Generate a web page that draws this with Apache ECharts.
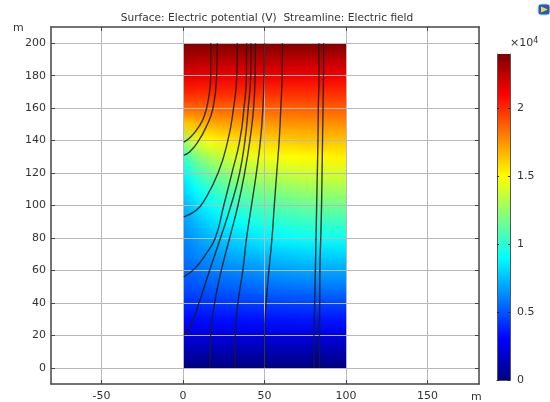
<!DOCTYPE html>
<html>
<head>
<meta charset="utf-8">
<style>html,body{margin:0;padding:0;background:#fff}#main{width:550px;height:402px}</style>
<script src="https://cdn.jsdelivr.net/npm/echarts@6/dist/echarts.min.js"></script>
</head>
<body>
<div id="main"></div>
<script>
var titleText = 'Surface: Electric potential (V)  Streamline: Electric field';
var xTicks = [-50, 0, 50, 100, 150];
var yTicks = [0, 20, 40, 60, 80, 100, 120, 140, 160, 180, 200];
var barTicks = [0, 0.5, 1, 1.5, 2];
var barMax = [2.4];
var potentialMax = 24000;

// potential, one row per entry of gridY
var gridX = [0, 5, 10, 20, 30, 50, 75, 100];
var gridY = [0, 10, 20, 30, 40, 50, 60, 70, 80, 90, 100, 110, 120, 130, 140, 150, 160, 170, 180, 190, 200];
var potential = [
    [0, 0, 0, 0, 0, 0, 0, 0],
    [1100, 1100, 1100, 1100, 1100, 1100, 1100, 1100],
    [2200, 2200, 2200, 2200, 2300, 2300, 2300, 2300],
    [3200, 3200, 3200, 3300, 3300, 3400, 3500, 3500],
    [4100, 4100, 4200, 4300, 4400, 4500, 4600, 4700],
    [4900, 4900, 5000, 5200, 5300, 5600, 5800, 5900],
    [5400, 5500, 5700, 6000, 6200, 6600, 6900, 7000],
    [5800, 6000, 6300, 6700, 7100, 7600, 8000, 8100],
    [6200, 6500, 6900, 7500, 8000, 8700, 9200, 9300],
    [6700, 7100, 7600, 8400, 9000, 9800, 10300, 10500],
    [7300, 7800, 8400, 9400, 10100, 10900, 11500, 11700],
    [8000, 8700, 9400, 10500, 11200, 12100, 12700, 12900],
    [8900, 9800, 10600, 11800, 12600, 13400, 13900, 14100],
    [10200, 11300, 12200, 13300, 14000, 14700, 15100, 15300],
    [12600, 13800, 14500, 15200, 15600, 16000, 16300, 16400],
    [16300, 16400, 16700, 17000, 17200, 17400, 17500, 17600],
    [18600, 18600, 18600, 18700, 18700, 18700, 18800, 18800],
    [20200, 20200, 20100, 20100, 20100, 20000, 20000, 20000],
    [21700, 21600, 21500, 21400, 21400, 21400, 21300, 21300],
    [23000, 22900, 22800, 22700, 22700, 22700, 22600, 22600],
    [24000, 24000, 24000, 24000, 24000, 24000, 24000, 24000]
];

// streamlines, [x, y] points
var stream1 = [[17, 200], [17, 180], [15.5, 165], [13, 155], [10, 149], [5, 142.5], [0.5, 139]];
var stream2 = [[21, 200], [20.6, 180], [18.4, 160], [14, 148], [9, 139], [4, 133], [0.5, 131]];
var stream3 = [[33.3, 200], [33, 180], [31, 160], [27.5, 140], [21.5, 120], [13, 103], [8, 97], [0.5, 93]];
var stream4 = [[39, 200], [38.9, 180], [37.4, 160], [34.8, 140], [30, 120], [25, 100], [19.8, 80], [14, 70], [8, 62], [0.5, 56]];
var stream5 = [[41.7, 200], [41.5, 180], [40, 160], [38, 140], [34.7, 120], [29.4, 100], [23, 80], [16.3, 60], [9.8, 40], [5, 27], [0.6, 20]];
var stream6 = [[44.4, 200], [44.2, 180], [43.3, 160], [41, 140], [37.8, 120], [33.7, 100], [28.6, 80], [23.5, 60], [19.4, 40], [17, 20], [16.5, 0]];
var stream7 = [[50, 200], [49.8, 180], [49, 160], [47.5, 140], [45, 120], [42, 100], [39, 80], [36.7, 60], [33.7, 40], [32, 20], [32, 0]];
var stream8 = [[61, 200], [60.8, 180], [60, 160], [59, 140], [57.5, 120], [56, 100], [54.6, 80], [52.7, 60], [51, 40], [50, 20], [50, 0]];
var stream9 = [[83.4, 200], [83.4, 180], [83, 160], [82.8, 140], [82.4, 120], [82, 100], [81.6, 80], [81.2, 60], [80.8, 40], [80.4, 20], [80.4, 0]];
var stream10 = [[86.3, 200], [86.2, 180], [85.9, 160], [85.6, 140], [85.3, 120], [85, 100], [84.5, 80], [84, 60], [83.9, 40], [83.7, 20], [83.7, 0]];
var streams = [stream1, stream2, stream3, stream4, stream5, stream6, stream7, stream8, stream9, stream10];

var jetColors = ['#00007f', '#0000ff', '#007fff', '#00ffff', '#7fff7f', '#ffff00', '#ff7f00', '#ff0000', '#7f0000'];
var textColor = '#333';
var axisColor = '#444';
var fontName = '"DejaVu Sans"';

function jet(v) {
    return echarts.color.lerp(Math.min(1, v / potentialMax), jetColors);
}

// cell index pairs for the surface
var cells = [];
for (var j = 0; j < gridY.length - 1; j++) {
    for (var i = 0; i < gridX.length - 1; i++) {
        cells.push([i, j]);
    }
}

// each mesh cell is shaded like the solver does: narrow strips with a vertical gradient,
// snapped to whole pixels so no seams show
function renderCell(params, api) {
    var i = api.value(0), j = api.value(1);
    var p0 = api.coord([gridX[i], gridY[j]]);
    var p1 = api.coord([gridX[i + 1], gridY[j + 1]]);
    var left = Math.round(p0[0]), right = Math.round(p1[0]);
    var top = Math.round(p1[1]), bottom = Math.round(p0[1]);
    var kids = [];
    for (var px = left; px < right; px += 2) {
        var f = (px + 1 - left) / (right - left);
        var lo = potential[j][i] * (1 - f) + potential[j][i + 1] * f;
        var hi = potential[j + 1][i] * (1 - f) + potential[j + 1][i + 1] * f;
        kids.push({
            type: 'rect',
            shape: { x: px, y: top, width: Math.min(2, right - px), height: bottom - top },
            style: {
                fill: new echarts.graphic.LinearGradient(0, 0, 0, 1, [
                    { offset: 0, color: jet(hi) },
                    { offset: 1, color: jet(lo) }
                ])
            }
        });
    }
    return { type: 'group', children: kids };
}

var barStops = jetColors.map(function (c, n) {
    return { offset: 1 - n / (jetColors.length - 1), color: c };
});

var series = [{
    type: 'custom',
    coordinateSystem: 'cartesian2d',
    xAxisIndex: 0,
    yAxisIndex: 0,
    z: 1,
    silent: true,
    encode: { x: 0, y: 1 },
    renderItem: renderCell,
    data: cells
}, {
    type: 'bar',
    xAxisIndex: 2,
    yAxisIndex: 2,
    barWidth: '100%',
    silent: true,
    z: 1,
    itemStyle: { color: new echarts.graphic.LinearGradient(0, 0, 0, 1, barStops) },
    data: barMax
}];
streams.forEach(function (s) {
    series.push({
        type: 'line',
        xAxisIndex: 0,
        yAxisIndex: 0,
        data: s,
        z: 10,
        smooth: 0.5,
        symbol: 'none',
        silent: true,
        lineStyle: { color: '#1c1c1c', width: 1.4, opacity: 0.85 }
    });
});

function frameAxis(pos, min, max, ticks, labelMargin, withGrid) {
    return {
        type: 'value',
        position: pos,
        gridIndex: 0,
        min: min,
        max: max,
        z: 5,
        axisLine: { show: true, onZero: false, lineStyle: { color: axisColor, width: 1.5 } },
        axisTick: { show: true, inside: true, length: 4, customValues: ticks, lineStyle: { color: axisColor } },
        axisLabel: { show: labelMargin > 0, customValues: ticks, color: textColor, fontSize: 11, fontFamily: fontName, margin: labelMargin },
        splitLine: { show: withGrid, lineStyle: { color: '#b8b8b8', width: 1 } }
    };
}

function barAxis(pos, withLabels) {
    return {
        type: 'value',
        position: pos,
        gridIndex: 1,
        min: 0,
        max: barMax[0],
        z: 5,
        axisLine: { show: true, onZero: false, lineStyle: { color: '#555', width: 1 } },
        axisTick: { show: true, inside: true, length: 2, customValues: barTicks, lineStyle: { color: '#222' } },
        axisLabel: { show: withLabels, customValues: barTicks, color: textColor, fontSize: 11, fontFamily: fontName, margin: 7 },
        splitLine: { show: false }
    };
}

var option = {
    animation: false,
    backgroundColor: '#fff',
    title: {
        text: titleText,
        left: 262,
        textAlign: 'center',
        top: 8,
        textStyle: { color: textColor, fontSize: 10.6, fontWeight: 'normal', fontFamily: fontName }
    },
    grid: [
        { left: 51, top: 27, width: 428, height: 357, outerBoundsMode: 'none' },
        { left: 497, top: 54, width: 13, height: 326, outerBoundsMode: 'none' }
    ],
    xAxis: [
        frameAxis('bottom', -81, 181.6, xTicks, 7, true),
        frameAxis('top', -81, 181.6, xTicks, 0, false),
        {
            type: 'category',
            gridIndex: 1,
            data: [''],
            axisLine: { show: true, onZero: false, lineStyle: { color: '#555' } },
            axisTick: { show: false },
            axisLabel: { show: false }
        }
    ],
    yAxis: [
        frameAxis('left', -10, 210, yTicks, 5, true),
        frameAxis('right', -10, 210, yTicks, 0, false),
        barAxis('left', false),
        barAxis('right', true)
    ],
    series: series,
    graphic: [
        { type: 'text', left: 13, top: 23, style: { text: 'm', fill: textColor, font: '11px ' + fontName } },
        { type: 'text', left: 471, top: 392, style: { text: 'm', fill: textColor, font: '11px ' + fontName } },
        {
            type: 'text',
            left: 510,
            top: 37,
            style: {
                text: '×10{s|4}',
                fill: textColor,
                font: '11px ' + fontName,
                rich: { s: { fontSize: 8, fontFamily: 'DejaVu Sans', fill: textColor, verticalAlign: 'top', padding: [0, 0, 5, 0] } }
            }
        },
        // small viewer badge in the corner
        { type: 'rect', shape: { x: 538, y: 4, width: 12, height: 11, r: 3 }, style: { fill: '#1f5fb4', stroke: '#cfd8e6', lineWidth: 1 } },
        { type: 'polygon', shape: { points: [[541, 6.5], [548, 9.5], [541, 12.5]] }, style: { fill: '#f2d64b' } }
    ]
};

var chart = echarts.init(document.getElementById('main'), null, { renderer: 'canvas' });
chart.setOption(option);
</script>
</body>
</html>
